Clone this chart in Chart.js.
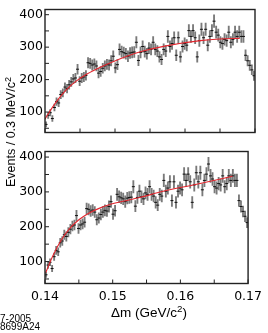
<!DOCTYPE html>
<html>
<head>
<meta charset="utf-8">
<script src="https://cdn.jsdelivr.net/npm/chart.js@4.4.0/dist/chart.umd.min.js"></script>
<style>
html,body{margin:0;padding:0;background:#fff;}
#wrap{position:relative;width:268px;height:333px;overflow:hidden;}
#cTop{position:absolute;left:0;top:0;}
#cBot{position:absolute;left:0;top:142px;}
.ttl{position:absolute;font-family:"Liberation Sans",Arial,sans-serif;color:#000;white-space:nowrap;}
#ytitle{left:11px;top:132px;transform:translate(-50%,-50%) rotate(-90deg);font-size:12.5px;}
#xtitle{left:149px;top:312px;transform:translate(-50%,-50%);font-size:13.5px;}
sup{font-size:72%;vertical-align:0.45em;line-height:0;}
#foot{left:0;top:315px;font-size:10px;line-height:8px;}
</style>
</head>
<body>
<div id="wrap">
  <canvas id="cTop" width="268" height="142"></canvas>
  <canvas id="cBot" width="268" height="191"></canvas>
  <div class="ttl" id="ytitle">Events / 0.3 MeV/c<sup>2</sup></div>
  <div class="ttl" id="xtitle">&Delta;m (GeV/c<sup>2</sup>)</div>
  <div class="ttl" id="foot">7-2005<br>8699A24</div>
</div>
<script>
// histogram: 0.3 MeV bins from 0.140 GeV
var BIN_START = 0.14, BIN_WIDTH = 0.0003;
var counts = [
  62, 90, 98, 80, 114, 132, 128, 154, 159, 177,
  172, 184, 193, 202, 205, 232, 195, 205, 208, 213,
  252, 250, 245, 248, 242, 220, 225, 235, 242, 247,
  245, 258, 272, 236, 246, 293, 286, 283, 280, 272,
  282, 284, 285, 315, 259, 284, 302, 286, 280, 297,
  293, 315, 293, 288, 270, 262, 293, 288, 333, 302,
  311, 329, 275, 329, 270, 302, 311, 306, 351, 333,
  351, 329, 270, 320, 355, 329, 355, 306, 333, 351,
  380, 346, 337, 315, 311, 324, 320, 346, 315, 324,
  346, 333, 346, 333, 333, 275, 258, 244, 230, 212
];

// fit curves
var fitTopX = [0.1400, 0.1407, 0.1419, 0.1431, 0.1445, 0.1460, 0.1479, 0.1498, 0.1517, 0.1540, 0.1573, 0.1622, 0.1650, 0.1678];
var fitTopY = [78, 103, 140, 170, 196, 217, 238, 256, 272, 288, 304, 320, 325, 327];
var fitBotX = [0.1401, 0.1412, 0.1424, 0.1436, 0.1450, 0.1464, 0.1479, 0.1498, 0.1517, 0.1540, 0.1573, 0.1624, 0.1677];
var fitBotY = [68, 118, 162, 194, 220, 238, 252, 265, 274, 284, 301, 322, 345];

var xTickLabels = ['0.14', '0.15', '0.16', '0.17'];
var yTickLabels = ['100', '200', '300', '400'];

var binCenters = counts.map(function (c, i) { return BIN_START + BIN_WIDTH * (i + 0.5); });

//DRAW FRAME AND INWARD TICK MARKS
var framePlugin = {
  id: 'frame',
  afterDatasetsDraw: function (chart) {
    var ctx = chart.ctx, a = chart.chartArea;
    var sx = chart.scales.x, sy = chart.scales.y;
    ctx.save();
    ctx.strokeStyle = '#222';
    ctx.lineWidth = 1;
    ctx.beginPath();
    sx.ticks.forEach(function (t) {
      var px = sx.getPixelForValue(t.value);
      ctx.moveTo(px, a.bottom);
      ctx.lineTo(px, a.bottom - 4);
    });
    sy.ticks.forEach(function (t) {
      var py = sy.getPixelForValue(t.value);
      ctx.moveTo(a.left, py);
      ctx.lineTo(a.left + 4, py);
    });
    ctx.stroke();
    ctx.lineWidth = 1.4;
    ctx.strokeRect(a.left, a.top, a.right - a.left, a.bottom - a.top);
    ctx.restore();
  }
};

function pickLabel(list, v) {
  for (var k = 0; k < list.length; k++) {
    if (Math.abs(parseFloat(list[k]) - v) < 1e-7) return list[k];
  }
  return '';
}

function makeChart(id, fitX, fitY, showX) {
  var errData = counts.map(function (c, i) {
    var e = Math.sqrt(c);
    return { x: binCenters[i], y: [c - e, c + e] };
  });
  var ptData = counts.map(function (c, i) { return { x: binCenters[i], y: c }; });
  var fitData = fitX.map(function (x, i) { return { x: x, y: fitY[i] }; });
  var tickFont = { family: 'DejaVu Sans', size: 12.5 };

  return new Chart(document.getElementById(id), {
    type: 'bar',
    data: {
      datasets: [
        { type: 'line', data: fitData, borderColor: '#e3262e', borderWidth: 1.1, pointRadius: 0,
          cubicInterpolationMode: 'monotone', order: 0 },
        { type: 'line', data: ptData, showLine: false, pointStyle: 'line', pointRadius: 1.5,
          borderColor: '#111', borderWidth: 1, order: 1 },
        { type: 'bar', data: errData, backgroundColor: '#7a7a7a', barThickness: 1.2, order: 2 }
      ]
    },
    options: {
      responsive: false,
      animation: false,
      events: [],
      layout: { padding: { left: 0, right: 13, top: showX ? 0 : 1, bottom: 0 } },
      plugins: { legend: { display: false }, tooltip: { enabled: false } },
      scales: {
        x: {
          type: 'linear', min: 0.14, max: 0.17, offset: false,
          ticks: { display: showX, stepSize: 0.005, autoSkip: false, maxRotation: 0, padding: 6,
                   color: '#000', font: tickFont,
                   callback: function (v) { return pickLabel(xTickLabels, v); } },
          grid: { display: false, drawTicks: false },
          border: { display: false },
          afterFit: function (s) { s.height = showX ? 49.5 : 0; }
        },
        y: {
          min: 37, max: 416,
          ticks: { stepSize: 50, includeBounds: false, autoSkip: false, padding: 2,
                   color: '#000', font: tickFont,
                   callback: function (v) { return pickLabel(yTickLabels, v); } },
          grid: { display: false, drawTicks: false },
          border: { display: false },
          afterFit: function (s) { s.width = 45; }
        }
      }
    },
    plugins: [framePlugin]
  });
}

makeChart('cTop', fitTopX, fitTopY, false);
makeChart('cBot', fitBotX, fitBotY, true);
</script>
</body>
</html>
